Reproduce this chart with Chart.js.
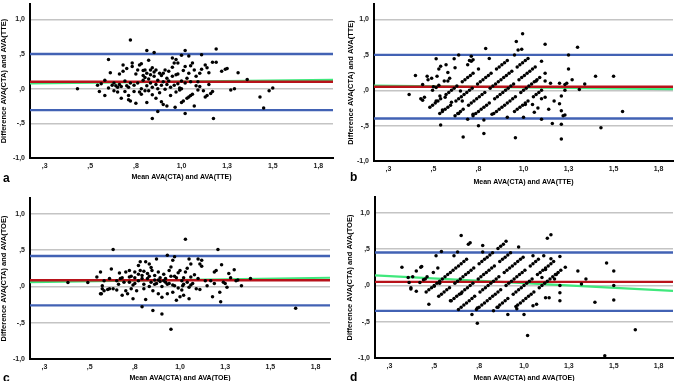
<!DOCTYPE html>
<html lang="en">
<head>
<meta charset="UTF-8">
<title>Bland-Altman CTA vs TTE / TOE</title>
<script src="https://cdn.jsdelivr.net/npm/chart.js"></script>
<style>
  body { margin: 0; width: 677px; height: 381px; overflow: hidden; background: #fff; position: relative; font-family: "Liberation Sans", Arial, sans-serif; }
  canvas { position: absolute; }
  .lbl { position: absolute; font-weight: bold; font-size: 12px; line-height: 12px; color: #000; }
</style>
</head>
<body>
<canvas id="chartA" width="338" height="190" style="left:0;top:0"></canvas>
<canvas id="chartB" width="340" height="190" style="left:337px;top:0"></canvas>
<canvas id="chartC" width="338" height="194" style="left:0;top:190px"></canvas>
<canvas id="chartD" width="340" height="194" style="left:337px;top:190px"></canvas>
<div class="lbl" style="left:3px;top:172px">a</div>
<div class="lbl" style="left:350px;top:171px">b</div>
<div class="lbl" style="left:3px;top:372px">c</div>
<div class="lbl" style="left:350px;top:371px">d</div>

<script>
// axis ticks (SPSS style labels)
const xTickValues = [0.25, 0.5, 0.75, 1.0, 1.25, 1.5, 1.75];
const xTickLabels = [',3', ',5', ',8', '1,0', '1,3', '1,5', '1,8'];
const yTickValues = [-1, -0.5, 0, 0.5, 1];
const yTickLabels = ['-1,0', '-,5', ',0', ',5', '1,0'];
const xRange = [0.17, 1.83];
const yRange = [-1, 1.22];

// limits: [upper LoA, mean diff, lower LoA]
const limitsA = [0.50, 0.10, -0.31];
const limitsB = [0.50, 0.05, -0.40];
const limitsC = [0.42, 0.085, -0.26];
const limitsD = [0.455, 0.05, -0.35];
// regression line, diff at left and right end of the axis
const fitA = [0.075, 0.125];
const fitB = [0.065, 0.015];
const fitC = [0.06, 0.12];
const fitD = [0.14, -0.075];

// [mean, difference]
const ptsA = [
  [0.43,0.00],[0.54,0.05],[0.55,-0.04],[0.56,0.07],[0.58,0.12],[0.58,-0.10],[0.60,0.42],[0.60,0.01],[0.61,0.23],[0.62,0.05],[0.63,-0.03],[0.63,0.08],
  [0.64,0.04],[0.65,0.02],[0.65,-0.05],[0.66,0.21],[0.66,0.06],[0.67,-0.14],[0.67,0.03],[0.68,0.25],[0.68,0.34],[0.69,-0.04],[0.69,0.11],[0.70,0.04],
  [0.70,0.29],[0.71,-0.16],[0.71,-0.10],[0.71,0.02],[0.72,-0.18],[0.72,0.08],[0.72,0.70],[0.73,0.37],[0.73,0.32],[0.74,-0.04],[0.74,0.05],[0.75,-0.21],
  [0.75,0.21],[0.76,0.27],[0.76,0.08],[0.77,-0.05],[0.77,0.34],[0.78,0.36],[0.78,0.00],[0.78,-0.08],[0.79,0.19],[0.79,0.12],[0.79,0.26],[0.80,-0.03],
  [0.80,0.16],[0.80,0.27],[0.81,0.04],[0.81,0.22],[0.81,0.55],[0.81,-0.20],[0.82,0.41],[0.82,0.14],[0.82,-0.03],[0.83,0.27],[0.83,0.08],[0.83,0.20],
  [0.84,0.30],[0.84,-0.09],[0.84,0.02],[0.85,0.18],[0.85,0.24],[0.85,0.52],[0.86,0.06],[0.86,-0.14],[0.86,0.27],[0.87,-0.33],[0.87,0.00],[0.87,0.12],
  [0.88,0.22],[0.88,-0.06],[0.84,-0.43],[0.89,0.19],[0.89,0.05],[0.89,-0.19],[0.90,0.22],[0.90,-0.23],[0.90,0.10],[0.91,0.27],[0.91,-0.01],[0.92,0.15],
  [0.92,-0.25],[0.92,0.06],[0.93,0.25],[0.93,0.11],[0.94,-0.10],[0.94,0.02],[0.95,0.44],[0.95,0.31],[0.95,0.18],[0.96,0.37],[0.965,-0.27],[0.96,0.05],
  [0.97,0.42],[0.97,0.20],[0.97,-0.05],[0.98,0.37],[0.98,0.07],[0.98,0.21],[0.99,-0.02],[0.99,0.01],[1.00,0.11],[1.00,-0.20],[1.00,0.48],[1.00,0.00],
  [1.01,0.26],[1.01,-0.18],[1.02,0.55],[1.02,0.32],[1.02,-0.36],[1.02,0.08],[1.03,-0.14],[1.03,0.15],[1.04,0.22],[1.04,-0.12],[1.04,0.47],[1.05,0.33],
  [1.05,-0.10],[1.05,0.10],[1.06,-0.08],[1.06,0.37],[1.07,0.27],[1.07,-0.25],[1.08,0.04],[1.08,0.18],[1.09,-0.02],[1.09,0.10],[1.10,0.03],[1.10,0.22],
  [1.11,0.28],[1.11,0.49],[1.12,-0.03],[1.13,0.34],[1.13,-0.12],[1.14,0.30],[1.14,-0.10],[1.15,0.06],[1.15,0.23],[1.16,-0.07],[1.175,-0.43],[1.17,0.38],
  [1.17,-0.04],[1.19,0.38],[1.19,0.57],[1.22,0.25],[1.24,0.28],[1.25,0.29],[1.27,-0.02],[1.29,0.00],[1.31,0.23],[1.36,0.13],[1.43,-0.12],[1.45,-0.28],
  [1.48,-0.03],[1.50,0.01]
];

const ptsB = [
  [0.48,-0.24],[0.495,-0.21],[0.51,-0.18],[0.525,-0.15],[0.54,-0.12],[0.57,-0.06],[0.585,-0.03],[0.60,0.00],[0.615,0.03],[0.63,0.06],[0.66,0.12],
  [0.675,0.15],[0.69,0.18],[0.705,0.21],[0.72,0.24],[0.75,0.30],
  [0.535,-0.33],[0.55,-0.30],[0.565,-0.27],[0.58,-0.24],[0.595,-0.21],[0.625,-0.15],[0.64,-0.12],[0.655,-0.09],[0.67,-0.06],[0.685,-0.03],[0.70,0.00],
  [0.715,0.03],[0.745,0.09],[0.76,0.12],[0.775,0.15],[0.79,0.18],[0.805,0.21],[0.82,0.24],[0.85,0.30],[0.865,0.33],[0.88,0.36],[0.895,0.39],[0.91,0.42],
  [0.62,-0.36],[0.635,-0.33],[0.65,-0.30],[0.665,-0.27],[0.695,-0.21],[0.71,-0.18],[0.725,-0.15],[0.74,-0.12],[0.755,-0.09],[0.77,-0.06],[0.785,-0.03],
  [0.815,0.03],[0.83,0.06],[0.845,0.09],[0.86,0.12],[0.875,0.15],[0.89,0.18],[0.905,0.21],[0.92,0.24],[0.935,0.27],[0.965,0.33],[0.98,0.36],[0.995,0.39],
  [1.01,0.42],[1.025,0.45],
  [0.72,-0.36],[0.735,-0.33],[0.75,-0.30],[0.765,-0.27],[0.78,-0.24],[0.795,-0.21],[0.81,-0.18],[0.84,-0.12],[0.855,-0.09],[0.87,-0.06],[0.885,-0.03],
  [0.90,0.00],[0.915,0.03],[0.93,0.06],[0.945,0.09],[0.975,0.15],[0.99,0.18],[1.005,0.21],[1.02,0.24],[1.035,0.27],[1.05,0.30],[1.065,0.33],
  [0.835,-0.33],[0.85,-0.30],[0.865,-0.27],[0.88,-0.24],[0.895,-0.21],[0.91,-0.18],[0.925,-0.15],[0.94,-0.12],[0.955,-0.09],[0.985,-0.03],[1.00,0.00],
  [1.015,0.03],[1.03,0.06],[1.045,0.09],[1.06,0.12],[1.075,0.15],[1.09,0.18],
  [0.95,-0.30],[0.965,-0.27],[0.98,-0.24],[0.995,-0.21],[1.01,-0.18],[1.025,-0.15],[1.055,-0.09],[1.07,-0.06],[1.085,-0.03],[1.10,0.00],
  [0.365,-0.06],[0.40,0.21],[0.43,-0.12],[0.44,-0.14],[0.44,0.08],[0.45,-0.10],[0.465,0.20],[0.47,0.15],[0.49,0.17],[0.495,0.00],[0.515,0.445],
  [0.515,-0.15],[0.53,0.07],[0.54,-0.49],[0.57,0.36],[0.55,-0.28],[0.565,-0.10],[0.58,0.13],[0.59,0.17],[0.615,0.445],[0.60,-0.17],[0.64,-0.33],
  [0.65,-0.01],[0.66,-0.15],[0.64,0.50],[0.665,-0.66],[0.69,-0.41],[0.70,0.42],[0.71,0.48],[0.72,-0.34],[0.75,-0.50],[0.78,-0.42],[0.79,0.59],
  [0.78,-0.61],[0.81,0.45],[0.825,-0.34],[0.91,-0.38],[0.95,0.50],[0.96,0.69],[0.97,0.57],[0.955,-0.67],[0.99,0.58],[0.995,0.80],[1.00,-0.38],
  [1.01,-0.20],[1.05,-0.20],[1.06,-0.31],[1.07,0.13],[1.08,-0.25],[1.10,0.41],[1.10,-0.41],[1.12,0.13],[1.12,-0.10],[1.12,0.65],[1.14,-0.27],
  [1.17,-0.15],[1.20,0.10],[1.21,-0.08],[1.21,-0.29],[1.21,-0.48],[1.21,-0.69],[1.23,0.00],[1.23,-0.35],[1.23,0.08],[1.24,0.10],[1.25,0.30],
  [1.25,0.50],[1.27,0.15],[1.30,0.61],[1.31,0.01],[1.34,0.09],[1.40,0.20],[1.43,-0.53],[1.50,0.20],[1.55,-0.30],[1.15,0.10],[1.12,0.24],
  [1.16,-0.47],[1.20,-0.19],[1.22,-0.36],[1.10,-0.12],[0.52,0.20],[0.50,0.05],[0.53,0.30],[0.62,0.32],[0.58,0.25],[0.54,0.34],[0.515,0.04],
  [0.536,-0.08],[0.56,0.13],[0.69,0.36],[0.71,0.41],[0.72,0.43]
];

const ptsC = [
  [0.38,0.055],[0.49,0.055],[0.54,0.13],[0.56,0.20],[0.56,-0.10],[0.565,-0.10],[0.57,-0.03],[0.57,0.01],[0.58,0.08],[0.60,-0.04],[0.61,-0.03],
  [0.61,0.11],[0.62,0.24],[0.63,0.51],[0.63,-0.03],[0.65,0.08],[0.65,-0.05],[0.665,0.185],[0.67,0.11],[0.68,-0.12],[0.68,0.12],[0.69,0.06],
  [0.70,0.20],[0.70,-0.06],[0.71,-0.10],[0.72,0.13],[0.73,0.14],[0.72,0.22],[0.73,-0.03],[0.74,-0.17],[0.74,0.02],[0.75,0.12],[0.75,0.20],
  [0.76,-0.06],[0.77,0.29],[0.77,0.08],[0.78,0.34],[0.78,0.22],[0.79,0.11],[0.79,0.15],[0.79,-0.28],[0.80,-0.03],[0.80,0.03],[0.81,0.34],
  [0.81,-0.18],[0.82,0.18],[0.82,0.11],[0.83,0.31],[0.83,0.00],[0.84,0.06],[0.84,0.26],[0.845,0.22],[0.85,-0.33],[0.85,-0.06],[0.86,0.09],
  [0.86,0.15],[0.87,0.38],[0.87,0.04],[0.88,-0.10],[0.88,0.20],[0.89,0.07],[0.89,0.12],[0.90,-0.15],[0.90,-0.38],[0.90,0.00],[0.91,0.17],
  [0.92,0.06],[0.92,0.11],[0.93,0.43],[0.93,-0.10],[0.94,0.22],[0.94,0.04],[0.95,-0.59],[0.95,0.27],[0.95,0.14],[0.96,0.36],[0.96,-0.08],
  [0.97,0.01],[0.97,0.41],[0.98,0.12],[0.98,-0.19],[0.99,0.19],[0.99,-0.02],[1.00,0.22],[1.00,-0.14],[1.01,0.08],[1.01,-0.05],[1.015,0.01],
  [1.02,-0.12],[1.02,0.12],[1.03,0.20],[1.03,0.65],[1.04,0.25],[1.04,0.06],[1.05,-0.01],[1.05,0.38],[1.05,-0.17],[1.06,0.13],[1.06,0.31],
  [1.07,0.04],[1.09,-0.03],[1.10,0.11],[1.10,0.38],[1.11,0.31],[1.11,-0.04],[1.12,0.36],[1.12,0.28],[1.14,0.08],[1.15,0.01],[1.17,0.08],
  [1.18,-0.14],[1.19,0.20],[1.19,0.04],[1.20,0.22],[1.21,0.51],[1.22,-0.08],[1.225,-0.21],[1.23,0.30],[1.24,0.06],[1.25,0.04],[1.26,-0.01],
  [1.27,0.18],[1.28,0.12],[1.30,0.23],[1.31,0.08],[1.32,0.09],[1.34,0.01],[1.39,0.11],[1.64,-0.30],
  [0.58,-0.06],[0.66,0.03],[0.72,0.06],[0.75,0.04],[0.77,0.17],[0.80,0.21],[0.83,0.14],[0.86,0.03],[0.88,0.09],[0.91,0.08],[0.93,0.03],
  [0.96,0.02],[0.97,0.14],[1.02,0.03],[1.06,0.02],[1.08,0.16]
];

const ptsD = [
  [0.455,-0.09],[0.47,-0.06],[0.485,-0.03],[0.50,0.00],[0.515,0.03],[0.53,0.06],[0.56,0.12],[0.575,0.15],[0.59,0.18],[0.605,0.21],[0.62,0.24],
  [0.635,0.27],[0.65,0.30],[0.665,0.33],[0.68,0.36],
  [0.525,-0.15],[0.54,-0.12],[0.555,-0.09],[0.57,-0.06],[0.585,-0.03],[0.615,0.03],[0.63,0.06],[0.645,0.09],[0.66,0.12],[0.675,0.15],[0.69,0.18],
  [0.705,0.21],[0.72,0.24],[0.75,0.30],[0.765,0.33],[0.78,0.36],[0.795,0.39],[0.81,0.42],[0.825,0.45],[0.855,0.51],[0.87,0.54],[0.885,0.57],
  [0.595,-0.21],[0.61,-0.18],[0.625,-0.15],[0.64,-0.12],[0.655,-0.09],[0.67,-0.06],[0.685,-0.03],[0.70,0.00],[0.715,0.03],[0.745,0.09],[0.76,0.12],
  [0.775,0.15],[0.79,0.18],[0.805,0.21],[0.82,0.24],[0.835,0.27],[0.865,0.33],[0.88,0.36],[0.895,0.39],[0.91,0.42],[0.925,0.45],
  [0.635,-0.33],[0.65,-0.30],[0.665,-0.27],[0.68,-0.24],[0.695,-0.21],[0.71,-0.18],[0.725,-0.15],[0.755,-0.09],[0.77,-0.06],[0.785,-0.03],[0.80,0.00],
  [0.815,0.03],[0.83,0.06],[0.845,0.09],[0.86,0.12],[0.89,0.18],[0.905,0.21],[0.92,0.24],[0.935,0.27],[0.95,0.30],[0.965,0.33],[0.98,0.36],[0.995,0.39],
  [0.735,-0.33],[0.75,-0.30],[0.765,-0.27],[0.78,-0.24],[0.795,-0.21],[0.81,-0.18],[0.825,-0.15],[0.84,-0.12],[0.855,-0.09],[0.87,-0.06],[0.90,0.00],
  [0.915,0.03],[0.93,0.06],[0.945,0.09],[0.96,0.12],[0.975,0.15],[0.99,0.18],[1.005,0.21],[1.035,0.27],[1.05,0.30],[1.065,0.33],[1.08,0.36],
  [0.85,-0.30],[0.865,-0.27],[0.88,-0.24],[0.895,-0.21],[0.91,-0.18],[0.94,-0.12],[0.955,-0.09],[0.97,-0.06],[0.985,-0.03],[1.00,0.00],[1.015,0.03],
  [1.03,0.06],[1.045,0.09],[1.075,0.15],[1.09,0.18],[1.105,0.21],[1.12,0.24],[1.135,0.27],[1.15,0.30],[1.165,0.33],
  [0.965,-0.27],[0.98,-0.24],[0.995,-0.21],[1.01,-0.18],[1.025,-0.15],[1.04,-0.12],[1.055,-0.09],[1.085,-0.03],[1.10,0.00],[1.115,0.03],[1.13,0.06],
  [1.145,0.09],[1.16,0.12],[1.175,0.15],[1.19,0.18],[1.205,0.21],
  [0.32,0.25],[0.36,0.04],[0.37,-0.03],[0.37,-0.05],[0.355,0.11],[0.38,0.12],[0.40,0.20],[0.40,-0.08],[0.42,0.04],[0.425,0.25],[0.43,0.26],
  [0.44,0.08],[0.45,0.09],[0.46,0.12],[0.47,-0.26],[0.495,0.18],[0.50,-0.01],[0.51,0.41],[0.52,0.24],[0.53,0.03],[0.54,0.47],[0.545,0.09],
  [0.59,-0.21],[0.61,0.41],[0.63,0.46],[0.65,0.69],[0.65,-0.11],[0.69,0.57],[0.70,0.59],[0.71,-0.40],[0.74,-0.31],[0.74,-0.52],[0.77,0.55],
  [0.77,0.46],[0.83,-0.35],[0.855,-0.30],[0.90,0.61],[0.91,-0.40],[0.955,-0.29],[0.97,0.53],[1.00,-0.40],[1.02,-0.69],[1.05,0.41],[1.05,-0.28],
  [1.07,-0.26],[1.10,0.11],[1.11,0.41],[1.12,0.22],[1.13,0.65],[1.15,0.70],[1.12,-0.17],[1.14,-0.17],[1.15,0.37],[1.17,0.09],[1.18,0.15],
  [1.20,0.40],[1.20,-0.10],[1.20,-0.21],[1.23,0.25],[1.20,0.00],[1.30,0.20],[1.32,0.02],[1.345,0.09],[1.395,-0.23],[1.46,0.31],[1.50,0.20],
  [1.50,0.00],[1.50,-0.20],[1.45,-0.97],[1.62,-0.61],[0.96,-0.32]
];

Chart.defaults.font.family = '"Liberation Sans", Arial, sans-serif';
Chart.defaults.color = '#111';

// chart area inside each canvas: l, t, r, b ; title paddings
const panels = [
  { id: 'chartA', pts: ptsA, lim: limitsA, fit: fitA, ref: 'TTE', w: 338, h: 190, l: 30, t: 0, r: 333, b: 158, yt: 0, xt: 9.5 },
  { id: 'chartB', pts: ptsB, lim: limitsB, fit: fitB, ref: 'TTE', w: 340, h: 190, l: 37, t: 2, r: 338, b: 161, yt: 10, xt: 4.5 },
  { id: 'chartC', pts: ptsC, lim: limitsC, fit: fitC, ref: 'TOE', w: 338, h: 194, l: 30, t: 8, r: 330, b: 169, yt: 0, xt: 2 },
  { id: 'chartD', pts: ptsD, lim: limitsD, fit: fitD, ref: 'TOE', w: 340, h: 194, l: 38, t: 7, r: 340, b: 168, yt: 9.5, xt: 2 }
];

function hline(y, color, order) {
  return {
    type: 'scatter', showLine: true, data: [{x: xRange[0], y: y}, {x: xRange[1], y: y}],
    borderColor: color, borderWidth: 2.4, pointRadius: 0, order: order
  };
}

panels.forEach(p => {
  new Chart(document.getElementById(p.id), {
    type: 'scatter',
    data: {
      datasets: [
        { data: p.pts.map(d => ({x: d[0], y: d[1]})), backgroundColor: '#000', borderWidth: 0, pointRadius: 1.75, order: 0 },
        hline(p.lim[1], '#b8121a', 1),
        { type: 'scatter', showLine: true, data: [{x: xRange[0], y: p.fit[0]}, {x: xRange[1], y: p.fit[1]}],
          borderColor: '#3fe87c', borderWidth: 2.2, pointRadius: 0, order: 2 },
        hline(p.lim[0], '#4262b4', 3),
        hline(p.lim[2], '#4262b4', 3)
      ]
    },
    options: {
      responsive: false,
      animation: false,
      layout: { padding: { left: 0, top: p.t, right: p.w - p.r, bottom: 0 } },
      plugins: { legend: { display: false }, tooltip: { enabled: false } },
      scales: {
        x: {
          type: 'linear', position: 'bottom', min: xRange[0], max: xRange[1],
          afterFit: s => { s.height = p.h - p.b; s.paddingLeft = 0; s.paddingRight = 0; },
          afterBuildTicks: s => { s.ticks = xTickValues.map(v => ({value: v})); },
          ticks: { callback: (v, i) => xTickLabels[i], font: { size: 7, weight: 'bold' }, color: '#222', padding: 4, maxRotation: 0, autoSkip: false },
          grid: { display: false, drawTicks: false },
          border: { display: true, color: '#000', width: 2 },
          title: { display: true, text: 'Mean AVA(CTA) and AVA(' + p.ref + ')', font: { size: 7, weight: 'bold', lineHeight: 1 }, color: '#000', padding: { top: 0, bottom: p.xt } }
        },
        y: {
          type: 'linear', position: 'left', min: yRange[0], max: yRange[1],
          afterFit: s => { s.width = p.l; s.paddingTop = 0; s.paddingBottom = 0; },
          afterBuildTicks: s => { s.ticks = yTickValues.map(v => ({value: v})); },
          ticks: { callback: (v, i) => yTickLabels[i], font: { size: 7, weight: 'bold' }, color: '#222', padding: 5 },
          grid: { drawTicks: false, lineWidth: 1.5, color: c => (c.tick && c.tick.value === -1) ? 'rgba(0,0,0,0)' : '#c4c4c4' },
          border: { display: true, color: '#000', width: 2 },
          title: { display: true, text: 'Difference AVA(CTA) and AVA(' + p.ref + ')', font: { size: 7.5, weight: 'bold', lineHeight: 1 }, color: '#000', padding: { top: p.yt, bottom: 0 } }
        }
      }
    }
  });
});
</script>
</body>
</html>
